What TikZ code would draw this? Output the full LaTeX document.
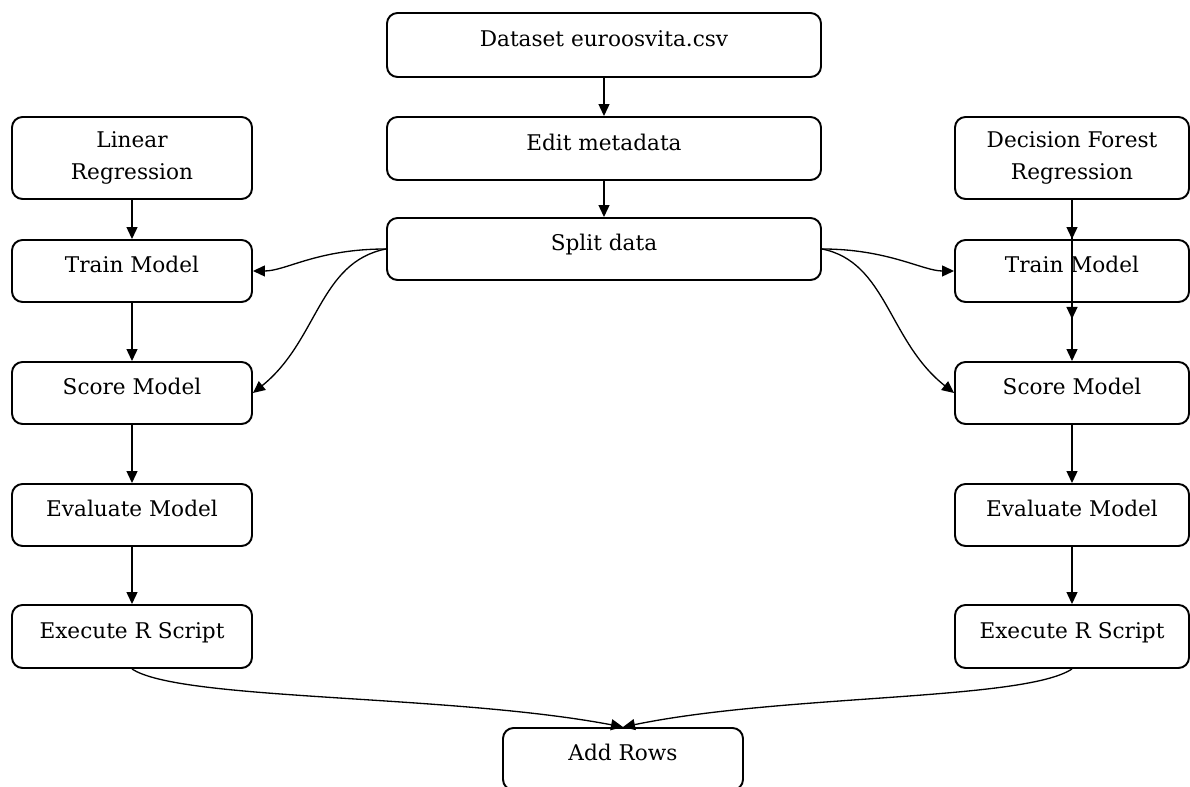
\documentclass[tikz,border=0pt]{standalone}
\usepackage{fontspec}
\setmainfont{DejaVu Serif}
\usetikzlibrary{arrows.meta}
\tikzset{
  box/.style={draw=black, rounded corners=6pt, line width=1.1pt,
    align=center, inner sep=3pt, font=\fontsize{12.3}{18}\selectfont},
  oneline/.style={text height=9pt, text depth=7pt},
  flow/.style={-{Triangle[length=2.4mm,width=2.2mm]}, line width=0.75pt, draw=black}
}

\begin{document}
\begin{tikzpicture}[x=1cm,y=1cm]
\useasboundingbox (0,0) rectangle (23.8,15.74);

% Data preparation in the middle
\node[box, oneline, minimum width=8.68cm, minimum height=1.28cm] (data) at (12.08,14.84) {Dataset euroosvita.csv};
\node[box, oneline, minimum width=8.68cm, minimum height=1.26cm] (meta) at (12.08,12.77) {Edit metadata};
\node[box, oneline, minimum width=8.68cm, minimum height=1.24cm] (split) at (12.08,10.76) {Split data};

% Linear regression branch
\node[box, minimum width=4.8cm, minimum height=1.64cm] (lreg) at (2.64,12.58) {Linear\\Regression};
\node[box, oneline, minimum width=4.8cm, minimum height=1.24cm] (ltrain) at (2.64,10.32) {Train Model};
\node[box, oneline, minimum width=4.8cm, minimum height=1.24cm] (lscore) at (2.64,7.88) {Score Model};
\node[box, oneline, minimum width=4.8cm, minimum height=1.24cm] (leval) at (2.64,5.44) {Evaluate Model};
\node[box, oneline, minimum width=4.8cm, minimum height=1.26cm] (lexec) at (2.64,3.01) {Execute R Script};

% Decision forest branch
\node[box, minimum width=4.68cm, minimum height=1.64cm] (dreg) at (21.44,12.58) {Decision Forest\\Regression};
\node[box, oneline, minimum width=4.68cm, minimum height=1.24cm] (dtrain) at (21.44,10.32) {Train Model};
\node[box, oneline, minimum width=4.68cm, minimum height=1.24cm] (dscore) at (21.44,7.88) {Score Model};
\node[box, oneline, minimum width=4.68cm, minimum height=1.24cm] (deval) at (21.44,5.44) {Evaluate Model};
\node[box, oneline, minimum width=4.68cm, minimum height=1.26cm] (dexec) at (21.44,3.01) {Execute R Script};
\coordinate (dcross) at ([yshift=-0.32cm]dtrain.south);

% Joined output
\node[box, oneline, minimum width=4.8cm, minimum height=1.24cm] (rows) at (12.46,0.56) {Add Rows};

% Flow arrows
\draw[flow] (data.south) -- (meta.north);
\draw[flow] (meta.south) -- (split.north);

\draw[flow] (lreg.south) -- (ltrain.north);
\draw[flow] (ltrain.south) -- (lscore.north);
\draw[flow] (lscore.south) -- (leval.north);
\draw[flow] (leval.south) -- (lexec.north);

\draw[flow] (dreg.south) -- (dtrain.north);
\draw[flow] (dreg.south) -- (dcross);
\draw[flow] (dtrain.south) -- (dscore.north);
\draw[flow] (dscore.south) -- (deval.north);
\draw[flow] (deval.south) -- (dexec.north);

\draw[flow] (split.west) .. controls +(-1.38,0) and +(0.66,0) .. (ltrain.east);
\draw[flow] (split.west) .. controls +(-1.34,-0.26) and +(1.3,1.04) .. (lscore.east);
\draw[flow] (split.east) .. controls +(1.32,0) and +(-0.62,0) .. (dtrain.west);
\draw[flow] (split.east) .. controls +(1.3,-0.26) and +(-1.32,1.04) .. (dscore.west);

\draw[flow] (lexec.south) .. controls +(0.96,-0.64) and +(-3.46,0.66) .. (rows.north);
\draw[flow] (dexec.south) .. controls +(-0.96,-0.64) and +(3.2,0.66) .. (rows.north);

\end{tikzpicture}
\end{document}
